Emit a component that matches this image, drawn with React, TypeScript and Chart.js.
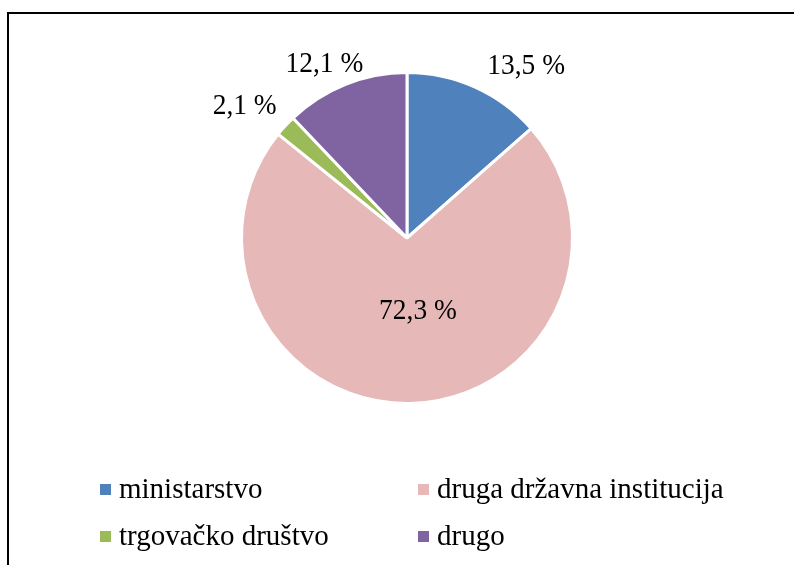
import React, { useEffect, useRef } from "react";
import { Chart, registerables } from "chart.js";

Chart.register(...registerables);

const categories = ["ministarstvo", "druga državna institucija", "trgovačko društvo", "drugo"];
const shares = [13.5, 72.3, 2.1, 12.1];
const valueLabels = ["13,5 %", "72,3 %", "2,1 %", "12,1 %"];
const colors = ["#4F81BD", "#E6B9B8", "#9BBB59", "#8064A2"];

// label placement relative to each slice (radius factor, angular shift in degrees)
const labelRadius = [1.265, 0.45, 1.265, 1.16];
const labelShift = [10.4, -7.2, -3.5, -3.7];

const FONT = '"Liberation Serif", "Times New Roman", serif';

const valueLabelPlugin = {
  id: "valueLabels",
  afterDatasetsDraw(chart: any) {
    const ctx = chart.ctx;
    const meta = chart.getDatasetMeta(0);
    const sx = 0.93;
    meta.data.forEach((arc: any, i: number) => {
      const p = arc.getProps(["x", "y", "startAngle", "endAngle", "outerRadius"], true);
      const mid = (p.startAngle + p.endAngle) / 2 + (labelShift[i] * Math.PI) / 180;
      const r = p.outerRadius * labelRadius[i];
      const lx = p.x + Math.cos(mid) * r;
      const ly = p.y + Math.sin(mid) * r;
      ctx.save();
      ctx.font = `29.5px ${FONT}`;
      ctx.fillStyle = "#000";
      ctx.textAlign = "center";
      ctx.textBaseline = "middle";
      ctx.translate(lx, ly);
      ctx.scale(sx, 1);
      ctx.fillText(valueLabels[i], 0, 0);
      ctx.restore();
    });
  },
};

const gridLegendPlugin = {
  id: "gridLegend",
  afterDraw(chart: any) {
    const ctx = chart.ctx;
    const colX = [100, 418];
    const rowBase = [498, 545];
    const box = 11;
    ctx.save();
    ctx.font = `29px ${FONT}`;
    ctx.textAlign = "left";
    ctx.textBaseline = "alphabetic";
    const labels: string[] = chart.data.labels;
    const bg: string[] = chart.data.datasets[0].backgroundColor;
    labels.forEach((lab, i) => {
      const col = i % 2;
      const row = Math.floor(i / 2);
      const x = colX[col];
      const y = rowBase[row];
      ctx.fillStyle = bg[i];
      ctx.fillRect(x, y - 14, box, box);
      ctx.fillStyle = "#000";
      ctx.fillText(lab, x + 19, y);
    });
    ctx.restore();
  },
};

export default function App() {
  const ref = useRef<HTMLCanvasElement>(null);
  useEffect(() => {
    const chart = new Chart(ref.current as HTMLCanvasElement, {
      type: "pie",
      data: {
        labels: categories,
        datasets: [
          {
            data: shares,
            backgroundColor: colors,
            borderColor: "#ffffff",
            borderWidth: 3,
          },
        ],
      },
      options: {
        responsive: false,
        animation: false,
        layout: { padding: { left: 20, right: 0, top: 71, bottom: 160 } },
        plugins: {
          legend: { display: false },
          tooltip: { enabled: false },
        },
      },
      plugins: [valueLabelPlugin, gridLegendPlugin],
    });
    return () => chart.destroy();
  }, []);
  return (
    <div
      style={{
        position: "fixed",
        left: 0,
        top: 0,
        width: 794,
        height: 565,
        overflow: "hidden",
        background: "#fff",
      }}
    >
      <div
        style={{
          position: "absolute",
          left: 7,
          top: 12,
          width: 830,
          height: 620,
          border: "2px solid #000",
          boxSizing: "border-box",
        }}
      />
      <canvas
        ref={ref}
        width={794}
        height={565}
        style={{ position: "absolute", left: 0, top: 0, width: 794, height: 565 }}
      />
    </div>
  );
}
